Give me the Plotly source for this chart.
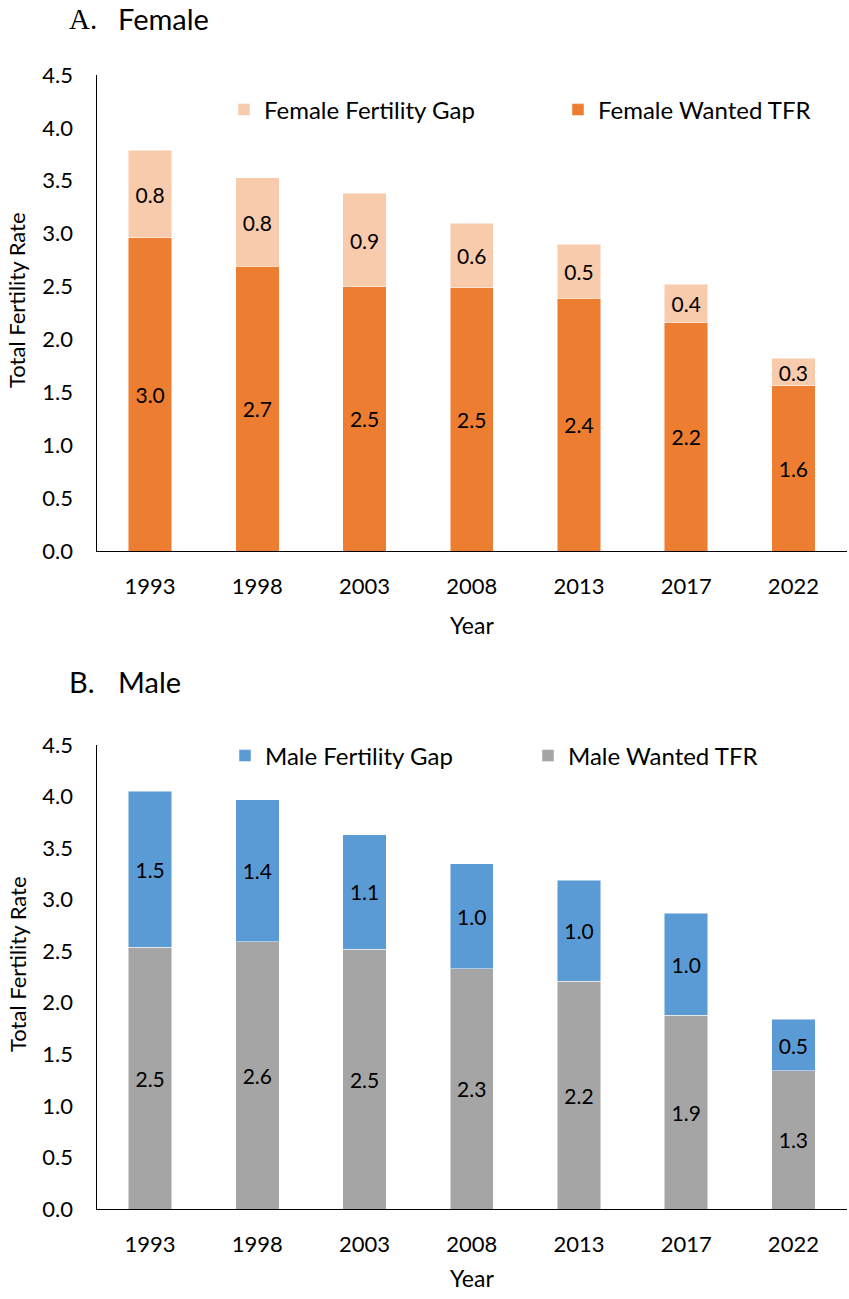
import plotly.graph_objects as go

years = ["1993", "1998", "2003", "2008", "2013", "2017", "2022"]

female_wanted = [2.96, 2.69, 2.50, 2.49, 2.39, 2.16, 1.56]
female_gap = [0.83, 0.84, 0.88, 0.61, 0.51, 0.36, 0.26]

male_wanted = [2.54, 2.59, 2.52, 2.33, 2.21, 1.88, 1.34]
male_gap = [1.51, 1.38, 1.11, 1.02, 0.98, 0.99, 0.50]

y_ticks = [0.0, 0.5, 1.0, 1.5, 2.0, 2.5, 3.0, 3.5, 4.0, 4.5]

FONT = "Lato"
C_F_WANTED = "#ED7D31"
C_F_GAP = "#F8CBAD"
C_M_WANTED = "#A5A5A5"
C_M_GAP = "#5B9BD5"

W, H = 849, 1299


def px_x(p):
    return p / W


def px_y(p):
    return 1 - p / H


fig = go.Figure()


def add_bar(y, name, color, xa, ya, legend):
    fig.add_trace(go.Bar(
        x=years, y=y, name=name, xaxis=xa, yaxis=ya,
        marker=dict(color=color, line=dict(width=0.8, color="rgba(255,255,255,0.6)")),
        texttemplate="%{y:.1f}", textposition="inside", insidetextanchor="middle",
        textangle=0, constraintext="none",
        textfont=dict(family=FONT, size=21, color="black"),
        legend=legend, showlegend=True,
    ))


add_bar(female_wanted, "Female Wanted TFR", C_F_WANTED, "x", "y", "legend2")
add_bar(female_gap, "Female Fertility Gap", C_F_GAP, "x", "y", "legend")
add_bar(male_wanted, "Male Wanted TFR", C_M_WANTED, "x2", "y2", "legend4")
add_bar(male_gap, "Male Fertility Gap", C_M_GAP, "x2", "y2", "legend3")

xdom = [px_x(96.5), px_x(847)]
ydomA = [px_y(551), px_y(75)]
ydomB = [px_y(1209), px_y(745)]

xcommon = dict(
    type="category", showline=True, linecolor="black", linewidth=1.3,
    showgrid=False, ticks="", ticklabelstandoff=15,
    tickfont=dict(family=FONT, size=22, color="black"), domain=xdom,
    zeroline=False,
)
ycommon = dict(
    range=[0, 4.5], tickvals=y_ticks, ticktext=[f"{v:.1f}" for v in y_ticks],
    showline=True, linecolor="black", linewidth=1.3, showgrid=False,
    ticks="", ticklabelstandoff=18, zeroline=False,
    tickfont=dict(family=FONT, size=22, color="black"),
)

legend_common = dict(
    orientation="h", xanchor="left", yanchor="middle",
    font=dict(family=FONT, size=24, color="black"),
    bgcolor="rgba(0,0,0,0)", borderwidth=0,
)

fig.update_layout(
    width=W, height=H, margin=dict(l=0, r=0, t=0, b=0, autoexpand=False),
    paper_bgcolor="white", plot_bgcolor="white",
    barmode="stack", bargap=0.595,
    xaxis=dict(**xcommon, anchor="y"),
    yaxis=dict(**ycommon, domain=ydomA, anchor="x"),
    xaxis2=dict(**xcommon, anchor="y2"),
    yaxis2=dict(**ycommon, domain=ydomB, anchor="x2"),
    legend=dict(**legend_common, x=px_x(224), y=px_y(110)),
    legend2=dict(**legend_common, x=px_x(558), y=px_y(110)),
    legend3=dict(**legend_common, x=px_x(225), y=px_y(756)),
    legend4=dict(**legend_common, x=px_x(528), y=px_y(756)),
    font=dict(family=FONT, color="black"),
)

ann = []
# Panel titles
ann.append(dict(text="A.", x=px_x(67), y=px_y(19), xref="paper", yref="paper",
                xanchor="left", yanchor="middle", showarrow=False,
                font=dict(family="Liberation Serif", size=29, color="black")))
ann.append(dict(text="Female", x=px_x(116), y=px_y(19), xref="paper", yref="paper",
                xanchor="left", yanchor="middle", showarrow=False,
                font=dict(family=FONT, size=29, color="black")))
ann.append(dict(text="B.", x=px_x(67), y=px_y(681), xref="paper", yref="paper",
                xanchor="left", yanchor="middle", showarrow=False,
                font=dict(family=FONT, size=29, color="black")))
ann.append(dict(text="Male", x=px_x(116), y=px_y(681), xref="paper", yref="paper",
                xanchor="left", yanchor="middle", showarrow=False,
                font=dict(family=FONT, size=29, color="black")))
# Axis titles
for yc in (300, 964):
    ann.append(dict(text="Total Fertility Rate", x=px_x(17), y=px_y(yc), xref="paper", yref="paper",
                    xanchor="center", yanchor="middle", showarrow=False, textangle=-90,
                    font=dict(family=FONT, size=22, color="black")))
for yc in (625, 1278):
    ann.append(dict(text="Year", x=px_x(472), y=px_y(yc), xref="paper", yref="paper",
                    xanchor="center", yanchor="middle", showarrow=False,
                    font=dict(family=FONT, size=23, color="black")))
fig.update_layout(annotations=ann)

post = (
    "document.documentElement.style.margin='0';"
    "document.documentElement.style.padding='0';"
    "document.body.style.margin='0';"
    "document.body.style.padding='0';"
    "var gd=document.getElementById('{plot_id}');"
    "gd.style.position='fixed';gd.style.top='0px';gd.style.left='0px';"
)
fig.write_html("out.html", post_script=post, config={"displayModeBar": False})
